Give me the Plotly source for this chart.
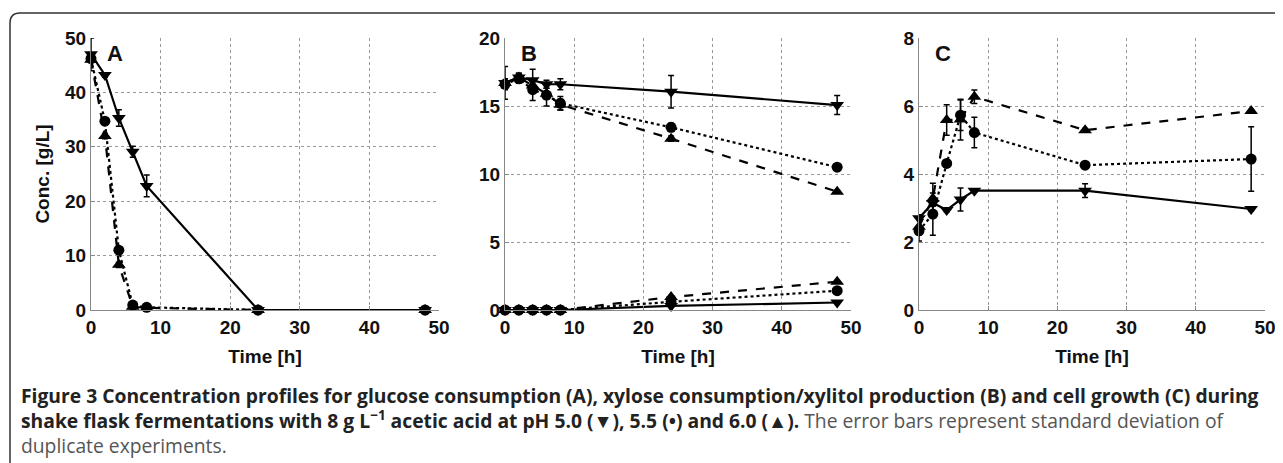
import plotly.graph_objects as go

# page body has an 8px margin: the figure is placed at (8, 8) in the window
OFF = 8
W, H = 1283 - OFF, 463 - OFF
time = [0, 2, 4, 6, 8, 24, 48]

# Panel A: glucose
glc_50 = [47.0, 43.2, 35.3, 29.1, 22.8, 0.0, 0.0]
glc_50_err = [3.0, 0.4, 1.5, 1.0, 2.0, 0.1, 0.1]
glc_55 = [46.2, 34.7, 11.0, 0.9, 0.5, 0.0, 0.0]
glc_55_err = [0.5, 0.5, 0.5, 0.3, 0.2, 0.1, 0.1]
glc_60 = [46.0, 32.0, 8.3, 0.6, 0.4, 0.0, 0.0]
glc_60_err = [0.5, 0.5, 0.5, 0.3, 0.2, 0.1, 0.1]

# Panel B: xylose & xylitol
xyl_50 = [16.7, 17.1, 16.9, 16.6, 16.6, 16.05, 15.07]
xyl_50_err = [1.2, 0.3, 0.8, 0.3, 0.4, 1.2, 0.7]
xyl_55 = [16.6, 17.0, 16.2, 15.8, 15.2, 13.43, 10.5]
xyl_55_err = [0.4, 0.3, 0.8, 0.8, 0.5, 0.3, 0.1]
xyl_60 = [16.7, 17.1, 16.5, 15.9, 15.1, 12.6, 8.7]
xyl_60_err = [0.3, 0.3, 0.4, 0.4, 0.4, 0.2, 0.1]
xoh_50 = [0.0, 0.0, 0.0, 0.0, 0.0, 0.3, 0.55]
xoh_55 = [0.0, 0.0, 0.0, 0.0, 0.0, 0.6, 1.42]
xoh_60 = [0.0, 0.0, 0.0, 0.0, 0.0, 0.95, 2.08]

# Panel C: cell growth
cdw_50 = [2.7, 3.15, 2.94, 3.25, 3.51, 3.51, 2.97]
cdw_50_err = [0.1, 0.1, 0.05, 0.34, 0.05, 0.2, 0.05]
cdw_55 = [2.33, 2.82, 4.31, 5.73, 5.22, 4.26, 4.44]
cdw_55_err = [0.3, 0.62, 0.05, 0.45, 0.45, 0.05, 0.95]
cdw_60 = [2.45, 3.28, 5.59, 5.6, 6.27, 5.29, 5.85]
cdw_60_err = [0.2, 0.45, 0.45, 0.6, 0.2, 0.05, 0.05]

x_ticks = [0, 10, 20, 30, 40, 50]
yticks_A = [0, 10, 20, 30, 40, 50]
yticks_B = [0, 5, 10, 15, 20]
yticks_C = [0, 2, 4, 6, 8]

styles = {
    "50": dict(symbol="triangle-down", size=12, dash="solid"),
    "55": dict(symbol="circle", size=11, dash="dot"),
    "60": dict(symbol="triangle-up", size=12, dash="dash"),
}

fig = go.Figure()


def add(xa, ya, y, err, key):
    st = styles[key]
    fig.add_trace(go.Scatter(
        x=time, y=y, xaxis=xa, yaxis=ya, mode="lines+markers",
        line=dict(color="black", width=2.2, dash=st["dash"]),
        marker=dict(symbol=st["symbol"], size=st["size"], color="black"),
        error_y=None if err is None else dict(type="data", array=err, visible=True,
                                               color="black", thickness=1.5, width=3),
        showlegend=False, cliponaxis=False))


add("x", "y", glc_60, glc_60_err, "60")
add("x", "y", glc_55, glc_55_err, "55")
add("x", "y", glc_50, glc_50_err, "50")

add("x2", "y2", xyl_60, xyl_60_err, "60")
add("x2", "y2", xyl_55, xyl_55_err, "55")
add("x2", "y2", xyl_50, xyl_50_err, "50")
add("x2", "y2", xoh_60, None, "60")
add("x2", "y2", xoh_55, None, "55")
add("x2", "y2", xoh_50, None, "50")

add("x3", "y3", cdw_60, cdw_60_err, "60")
add("x3", "y3", cdw_55, cdw_55_err, "55")
add("x3", "y3", cdw_50, cdw_50_err, "50")

tickfont = dict(family="Liberation Sans", size=19, color="#111", weight="bold")
titlefont = dict(family="Liberation Sans", size=19, color="#111", weight="bold")


def px(x):
    return (x - OFF) / W


def py(y):
    return 1 - (y - OFF) / H


ydom = [py(310), py(38)]
xdoms = [[px(91), px(439)], [px(505), px(851)], [px(919), px(1265)]]


def xaxis(dom, anchor):
    return dict(domain=dom, anchor=anchor, range=[0, 50], tickvals=x_ticks,
                showgrid=True, gridcolor="#999", griddash="dot", gridwidth=1,
                showline=True, linecolor="#888", linewidth=1, zeroline=False,
                ticks="inside", ticklen=4, tickcolor="#888", automargin=False,
                tickfont=tickfont, title=dict(text="Time [h]", font=titlefont, standoff=12))


def yaxis(ticks, rng, anchor, title=None):
    d = dict(domain=ydom, anchor=anchor, range=rng, tickvals=ticks,
             showgrid=True, gridcolor="#999", griddash="dot", gridwidth=1,
             showline=True, linecolor="#888", linewidth=1, zeroline=False,
             ticks="inside", ticklen=4, tickcolor="#888", tickfont=tickfont,
             automargin=False)
    if title:
        d["title"] = dict(text=title, font=titlefont, standoff=10)
    return d


fig.update_layout(
    width=W, height=H, margin=dict(l=0, r=0, t=0, b=0, autoexpand=False),
    paper_bgcolor="white", plot_bgcolor="white",
    xaxis=xaxis(xdoms[0], "y"), yaxis=yaxis(yticks_A, [0, 50], "x", "Conc. [g/L]"),
    xaxis2=xaxis(xdoms[1], "y2"), yaxis2=yaxis(yticks_B, [0, 20], "x2"),
    xaxis3=xaxis(xdoms[2], "y3"), yaxis3=yaxis(yticks_C, [0, 8], "x3"),
)

# panel letters
for xd, letter in zip(xdoms, ["A", "B", "C"]):
    fig.add_annotation(text=letter, xref="paper", yref="paper",
                       x=xd[0] + 24 / W, y=py(54), xanchor="center", yanchor="middle",
                       showarrow=False,
                       font=dict(family="Liberation Sans", size=22, color="#111", weight="bold"))

# rounded frame
r = 10
fig.add_shape(type="path", xref="paper", yref="paper",
              path=(f"M {px(10)},-0.2 L {px(10)},{py(13 + r)} "
                    f"Q {px(10)},{py(13)} {px(10 + r)},{py(13)} L 1.2,{py(13)}"),
              line=dict(color="#333", width=1.5))

caption = (
    "<b>Figure 3 Concentration profiles for glucose consumption (A), xylose consumption/xylitol production (B) and cell growth (C) during</b><br>"
    "<b>shake flask fermentations with 8 g L<sup>−1</sup> acetic acid at pH 5.0 (▼), 5.5 (•) and 6.0 (▲).</b>"
    " <span style='color:#555'>The error bars represent standard deviation of</span><br>"
    "<span style='color:#555'>duplicate experiments.</span>"
)
fig.add_annotation(text=caption, xref="paper", yref="paper", x=px(19), y=py(420),
                   xanchor="left", yanchor="middle", showarrow=False, align="left",
                   font=dict(family="Open Sans", size=19.3, color="#222"))

fig.write_html("out.html")
